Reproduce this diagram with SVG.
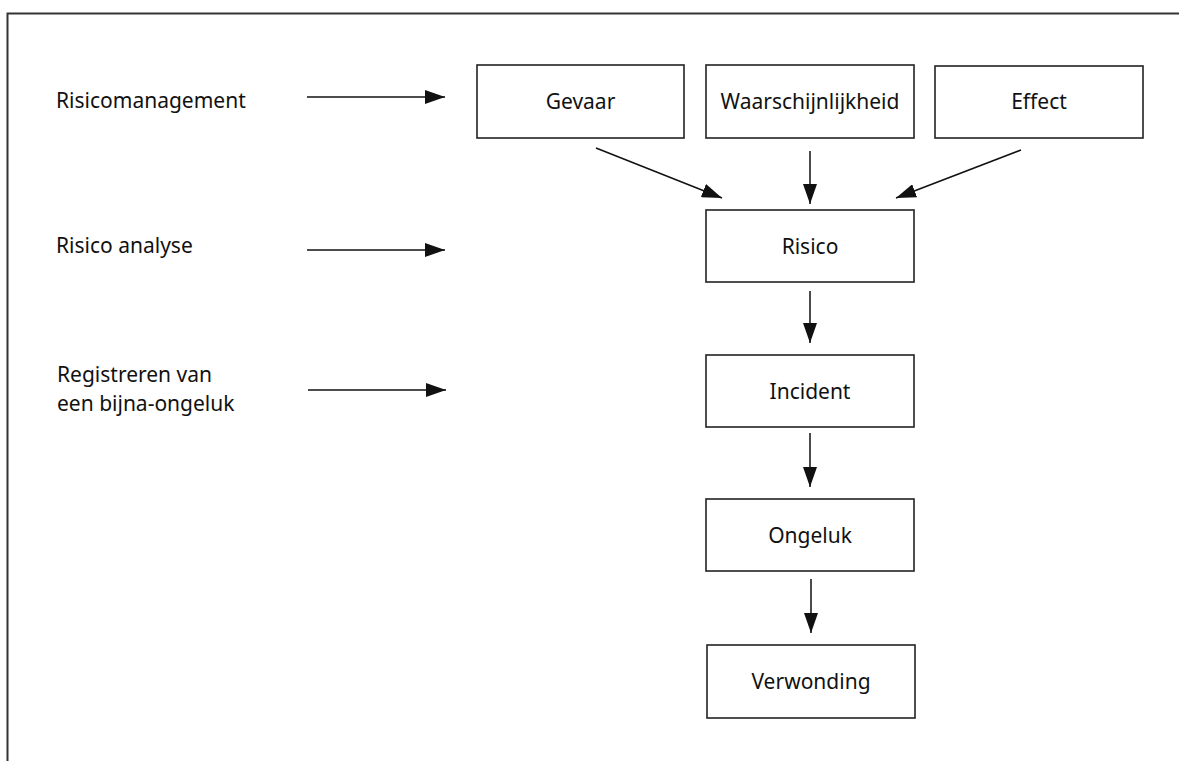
<svg xmlns="http://www.w3.org/2000/svg" width="1179" height="761" viewBox="0 0 1179 761">
<style>
.box{fill:#fff;stroke:#222;stroke-width:1.6}
.t{font-family:"Noto Sans","Open Sans",sans-serif;font-size:21px;fill:#111}
.c{text-anchor:middle}
.con{stroke:#111;stroke-width:1.5;fill:none;marker-end:url(#ah)}
</style>
<defs>
<marker id="ah" markerUnits="userSpaceOnUse" markerWidth="20" markerHeight="14" viewBox="0 0 20 14" refX="20" refY="7" orient="auto">
<path d="M0,0 L20,7 L0,14 z" fill="#111"/>
</marker>
</defs>
<rect width="1179" height="761" fill="#fff"/>
<path d="M7.5,761 V13.5 H1179" fill="none" stroke="#333" stroke-width="2"/>
<g id="labels">
<text class="t" x="56" y="108">Risicomanagement</text>
<text class="t" x="56" y="253">Risico analyse</text>
<text class="t" x="57" y="382">Registreren van</text>
<text class="t" x="57" y="411">een bijna-ongeluk</text>
</g>
<g id="gevaar"><rect class="box" x="477" y="65" width="207" height="73"/><text class="t c" x="580.5" y="109">Gevaar</text></g>
<g id="waarschijnlijkheid"><rect class="box" x="706" y="65" width="208" height="73"/><text class="t c" x="810" y="109">Waarschijnlijkheid</text></g>
<g id="effect"><rect class="box" x="935" y="66" width="208" height="72"/><text class="t c" x="1039" y="109">Effect</text></g>
<g id="risico"><rect class="box" x="706" y="210" width="208" height="72"/><text class="t c" x="810" y="254">Risico</text></g>
<g id="incident"><rect class="box" x="706" y="355" width="208" height="72"/><text class="t c" x="810" y="399">Incident</text></g>
<g id="ongeluk"><rect class="box" x="706" y="499" width="208" height="72"/><text class="t c" x="810" y="543">Ongeluk</text></g>
<g id="verwonding"><rect class="box" x="707" y="645" width="208" height="73"/><text class="t c" x="811" y="689">Verwonding</text></g>
<g id="connectors">
<line class="con" x1="307" y1="97" x2="445" y2="97"/>
<line class="con" x1="307" y1="250" x2="445" y2="250"/>
<line class="con" x1="308" y1="390" x2="446" y2="390"/>
<line class="con" x1="596" y1="148" x2="722" y2="198"/>
<line class="con" x1="810" y1="151" x2="810" y2="204"/>
<line class="con" x1="1021" y1="150" x2="896" y2="198"/>
<line class="con" x1="810" y1="291" x2="810" y2="343"/>
<line class="con" x1="810" y1="433" x2="810" y2="487"/>
<line class="con" x1="811" y1="579" x2="811" y2="633"/>
</g>
</svg>
